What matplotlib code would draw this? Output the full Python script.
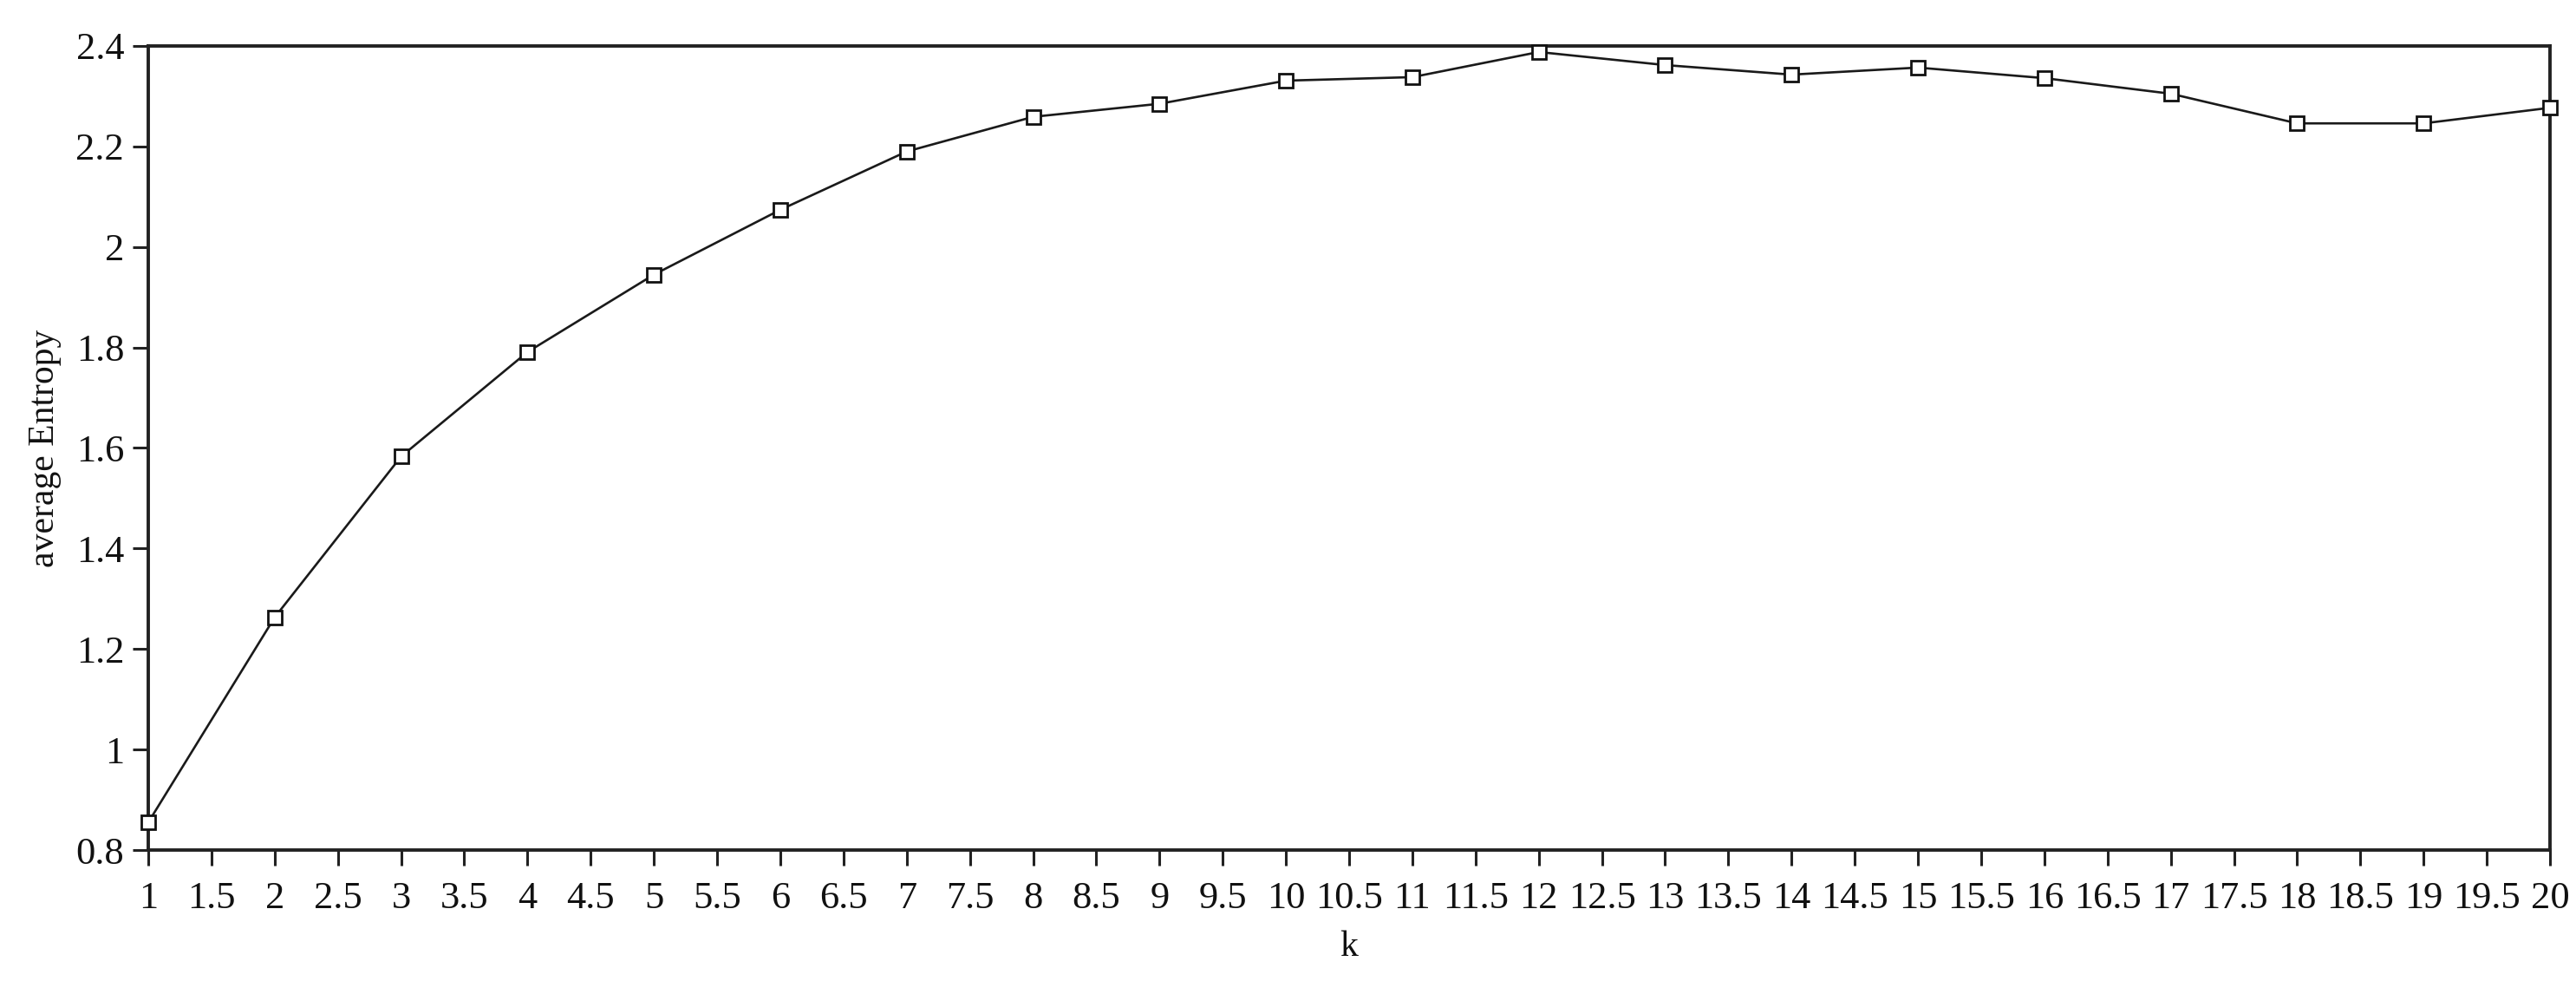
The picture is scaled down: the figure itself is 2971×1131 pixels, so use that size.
import numpy as np
import matplotlib
matplotlib.use("Agg")
import matplotlib.pyplot as plt
from matplotlib.ticker import FuncFormatter, MultipleLocator

# Data
k_values = [1, 2, 3, 4, 5, 6, 7, 8, 9, 10, 11, 12, 13, 14, 15, 16, 17, 18, 19, 20]
avg_entropy = [0.855, 1.263, 1.583, 1.791, 1.945, 2.074, 2.19, 2.259, 2.285, 2.331,
               2.338, 2.388, 2.362, 2.343, 2.357, 2.336, 2.305, 2.246, 2.246, 2.277]

x_label = "k"
y_label = "average Entropy"

plt.rcParams['font.family'] = ['Liberation Serif', 'DejaVu Serif']

fig = plt.figure(figsize=(29.71, 11.31), dpi=100)
ax = fig.add_axes([0.05756, 0.13351, 0.98990 - 0.05756, 0.95314 - 0.13351])

ax.plot(k_values, avg_entropy, color='#1a1a1a', linewidth=1.9,
        marker='s', markersize=11, markerfacecolor='white',
        markeredgecolor='#111111', markeredgewidth=2.0, clip_on=False, zorder=3)

ax.set_xlim(1, 20)
ax.set_ylim(0.8, 2.4)
ax.xaxis.set_major_locator(MultipleLocator(0.5))
ax.yaxis.set_major_locator(MultipleLocator(0.2))
fmt = FuncFormatter(lambda v, p: f"{round(v, 2):g}")
ax.xaxis.set_major_formatter(fmt)
ax.yaxis.set_major_formatter(fmt)

for s in ax.spines.values():
    s.set_linewidth(2.8)
    s.set_color('#222222')

ax.tick_params(axis='both', direction='out', length=13, width=2.2,
               color='#222222', labelsize=32, labelcolor='#111111')
ax.tick_params(axis='x', pad=13)
ax.tick_params(axis='y', pad=7)

ax.set_xlabel(x_label, fontsize=30, color='#111111', labelpad=12)
ax.set_ylabel(y_label, fontsize=30, color='#111111', labelpad=12)

fig.savefig("out.png", dpi=100, facecolor='white')
